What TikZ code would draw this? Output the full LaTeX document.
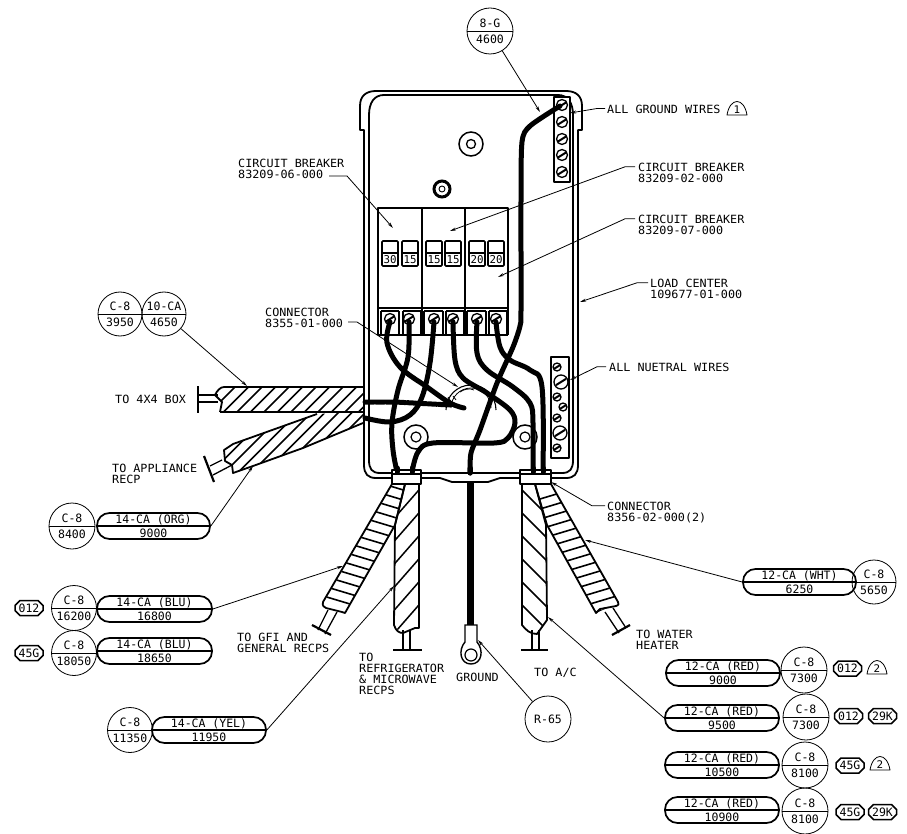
\documentclass[tikz,border=0pt]{standalone}
\usepackage{fontspec}
\usetikzlibrary{arrows.meta,shapes.misc,calc}
\newfontfamily\labf[FakeStretch=1.04]{DejaVu Sans Mono}
\newfontfamily\bigf{DejaVu Sans Mono}
\tikzset{
 lab/.style={inner sep=0pt,anchor=north west,align=left,font=\labf\fontsize{11.3pt}{11.2pt}\selectfont},
 ptxt/.style={inner sep=0pt,font=\bigf\fontsize{11.5pt}{13pt}\selectfont},
 pillbox/.style={draw,line width=1.7pt,rounded corners=12.5pt,minimum height=26pt,inner sep=0pt},
 cirbox/.style={draw,circle,line width=0.8pt,inner sep=0pt},
 tagbox/.style={draw,chamfered rectangle,chamfered rectangle xsep=2.5pt,chamfered rectangle ysep=2.5pt,line width=1.5pt,inner sep=0pt,minimum width=28pt,minimum height=15pt,font=\bigf\fontsize{11.5pt}{13pt}\selectfont},
 tribox/.style={draw,line width=0.8pt,line join=round},
 leader/.style={line width=0.8pt,-{Stealth[length=6pt,width=3pt]}},
 wire/.style={line width=5pt,line cap=round,line join=round},
 body/.style={line width=1.8pt,line join=round},
 hatch/.style={line width=1.5pt},
 screwbig/.style={draw,circle,line width=1.3pt,fill=white,inner sep=0pt},
}
\newcommand\pilltag[6]{% name cx cy w top bottom
 \node[pillbox,minimum width=#4pt] (#1) at (#2,#3) {};
 \draw[line width=1.5pt] (#1.west)--(#1.east);
 \node[ptxt] (#1a) at (#2,#3-6.5) {#5};
 \node[ptxt] (#1b) at (#2,#3+7) {#6};}
\newcommand\cirtag[6]{% name cx cy r top bottom
 \node[cirbox,minimum size=#4*2pt] (#1) at (#2,#3) {};
 \draw[line width=0.8pt] (#1.west)--(#1.east);
 \node[ptxt] (#1a) at (#2,#3-8) {#5};
 \node[ptxt] (#1b) at (#2,#3+8) {#6};}
\newcommand\hextag[4]{\node[tagbox] (#1) at (#2,#3) {#4};}
\newcommand\tritag[4]{%
 \draw[tribox] (#2-10,#3+7) .. controls (#2-7,#3-11) and (#2+7,#3-11) .. (#2+10,#3+7) -- cycle;
 \node[ptxt,font=\labf\fontsize{10.5pt}{12pt}\selectfont] (#1) at (#2,#3+2) {#4};}
\newcommand\screw[4]{% name x y r
 \node[screwbig,minimum size=#4*2pt] (#1) at (#2,#3) {};
 \draw[line width=2pt] ($(#1.center)+(-#4*0.72pt,#4*-0.45pt)$) -- ($(#1.center)+(#4*0.72pt,#4*0.45pt)$);}
\begin{document}
\begin{tikzpicture}[x=1pt,y=-1pt]
\useasboundingbox (0,0) rectangle (907,834);
% housing
\draw[body] (364,340) -- (364,130) -- (360,130) -- (360,106) .. controls (360,96) and (366,91) .. (376,91) -- (566,91) .. controls (576,91) and (582,96) .. (582,106) -- (582,130) -- (578,130) -- (578,465) .. controls (578,474) and (574,478) .. (566,478) -- (500,478) -- (488,482) -- (452,482) -- (440,478) -- (376,478) .. controls (368,478) and (364,474) .. (364,465) -- (364,340);
\draw[body] (369,340) -- (369,115) .. controls (369,103) and (374,95) .. (384,95) -- (558,95) .. controls (568,95) and (573,103) .. (573,115) -- (573,460) .. controls (573,469) and (570,473) .. (562,473) -- (380,473) .. controls (372,473) and (369,469) .. (369,460) -- (369,340);
% bosses
\node[draw,circle,line width=1.5pt,minimum size=24pt,inner sep=0pt] (boss1) at (471,144) {};
\node[draw,circle,line width=1.3pt,minimum size=9pt,inner sep=0pt] (boss1i) at (471,144) {};
\node[draw,circle,line width=3pt,minimum size=16pt,inner sep=0pt] (boss2) at (442,189) {};
\node[draw,circle,line width=0.9pt,minimum size=6pt,inner sep=0pt] (boss2i) at (442,189) {};
% breakers
\draw[body] (378,335) -- (378,208) -- (508,208) -- (508,335);
\draw[body] (422,208) -- (422,335) (465,208) -- (465,335) (378,308) -- (508,308);
\foreach \a/\b/\t in {382/398/30,402/418/15,426/442/15,445/461/15,469/485/20,488/504/20}{
 \draw[line width=1.6pt,rounded corners=1pt] (\a,241) rectangle (\b,266);
 \draw[line width=1.2pt] (\a,253) -- (\b,253);
 \node[inner sep=0pt,font=\bigf\fontsize{10.8pt}{12pt}\selectfont] at ({(\a+\b)/2},260) {\t};
}
\foreach \a in {381,399,403,421,424,443,446,464,467,486,489,507}{\draw[line width=1.2pt] (\a,311) -- (\a,335);}
\foreach \a/\b in {381/399,403/421,424/443,446/464,467/486,489/507}{\draw[line width=1.2pt] (\a,311) -- (\b,311);}
\draw[line width=1.2pt] (378,335) -- (508,335);
% ground bar and neutral bar
\draw[body,fill=white] (554,97) rectangle (570,182);
\foreach \n/\yy in {a/105,b/122,c/139,d/155,e/172}{\screw{g\n}{562}{\yy}{5.5}}
\draw[body,fill=white] (551,357) rectangle (569,458);
\foreach \n/\xx/\yy/\rr in {a/557/367/4,b/561/382/7,c/557/397/4,d/563/407/4,e/557/418/4,f/560/433/7,g/557/448/4}{\screw{n\n}{\xx}{\yy}{\rr}}
% inner circles
\node[draw,circle,line width=1.5pt,minimum size=24pt,inner sep=0pt] (h1) at (416,437) {};
\node[draw,circle,line width=1.2pt,minimum size=10pt,inner sep=0pt] (h1i) at (416,437) {};
\node[draw,circle,line width=1.5pt,minimum size=24pt,inner sep=0pt] (h2) at (525,437) {};
\node[draw,circle,line width=1.2pt,minimum size=10pt,inner sep=0pt] (h2i) at (525,437) {};
\draw[line width=1.1pt] (446,410) arc[start angle=180,end angle=360,radius=25pt,y radius=-25pt];
\draw[line width=0.8pt] (451,408) arc[start angle=180,end angle=360,radius=20pt,y radius=-20pt];
\draw[line width=0.8pt] (460,392) .. controls (464,389) and (470,388) .. (474,390);
\draw[line width=0.8pt] (448,397) -- (452,403) (453,396) -- (456,400);
% top screws
\foreach \n/\xx in {a/390,b/409,c/434,d/453,e/477,f/496}{\screw{t\n}{\xx}{319}{5.5}}
% wires
\draw[wire] plot[smooth,tension=0.6] coordinates {(390,322) (387,343) (400,367) (427,387) (450,403) (464,408)};
\draw[wire] plot[smooth,tension=0.6] coordinates {(409,322) (408,357) (398,390) (392,423) (393,450) (397,472)};
\draw[wire] plot[smooth,tension=0.6] coordinates {(434,322) (430,363) (422,397) (410,415) (390,422) (365,418)};
\draw[wire,dash pattern=on 9pt off 1.5pt] (365,402) -- (395,402) -- (450,405);
\draw[wire] plot[smooth,tension=0.55] coordinates {(453,322) (455,360) (463,378) (487,393) (510,410) (515,423) (508,438) (494,443) (433,443) (418,452) (412,472)};
\draw[wire] plot[smooth,tension=0.6] coordinates {(477,322) (477,353) (487,370) (513,387) (530,403) (533,423) (533,472)};
\draw[wire] plot[smooth,tension=0.6] coordinates {(496,322) (500,347) (510,360) (530,370) (542,387) (543,472)};
\draw[wire] plot[smooth,tension=0.45] coordinates {(560,106) (530,126) (522,142) (521,200) (521,310) (520,326) (513,347) (497,383) (480,430) (471,453) (470,473)};
\draw[line width=7pt] (470,482) -- (470,625);
% ring terminal
\draw[line width=1.4pt,fill=white] (465,625) -- (477,625) -- (477,642) .. controls (484,650) and (482,664) .. (471,664) .. controls (460,664) and (458,650) .. (465,642) -- cycle;
\node[draw,circle,line width=1.2pt,minimum size=12pt,inner sep=0pt,fill=white] (ring) at (471,655) {};
% 4x4 cable
\draw[line width=1.3pt] (218,395) -- (198,395) (218,402) -- (198,402);
\draw[line width=2.2pt] (198,386) -- (198,413);
\begin{scope}
\path[clip] (222,412) -- (222,402) -- (215,395) .. controls (217,391) and (220,387) .. (224,387) -- (363,387) -- (363,412) -- cycle;
\foreach \k in {0,...,12}{\draw[hatch] (210+\k*13.5,412) -- ++(30,-30);}
\end{scope}
\draw[line width=1.8pt,line join=round] (220,412) -- (222,402) -- (215,395) .. controls (217,391) and (220,387) .. (224,387) -- (363,387) (220,412) -- (363,412);
% appliance cable
\draw[line width=1.3pt] (210,466) -- (222,460) (213,475) -- (232,465);
\draw[line width=2.2pt] (204,456) -- (214,482);
\begin{scope}
\path[clip] (232,473) -- (232,465) -- (225,461) -- (224,450) -- (233,444) -- (317,414) -- (363,412) -- (363,423) -- (303,448) -- (253,466) -- cycle;
\foreach \k in {0,...,13}{\draw[hatch] (190+\k*13.5,480) -- ++(80,-80);}
\end{scope}
\draw[line width=1.8pt,line join=round] (363,423) -- (303,448) -- (253,466) -- (233,473) -- (232,465) -- (225,461) -- (224,450) -- (233,444) -- (317,414);
% gfi strip cable
\draw[line width=1.3pt] (328,610) -- (318,630) (337,612) -- (325,634);
\draw[line width=2.2pt] (312,625) -- (331,635);
\begin{scope}
\path[clip] (392,484) -- (405,484) -- (395,525) -- (345,613) -- (323,604) -- cycle;
\foreach \y in {459,469,...,590}{\draw[line width=1.6pt] (300,\y) -- ++(120,36);}
\end{scope}
\draw[line width=1.8pt,line join=round] (392,484) -- (323,602) .. controls (322,606) and (324,607) .. (326,608) -- (342,612) -- (345,613) -- (395,525) -- (405,484);
% refrigerator cable
\draw[line width=1.3pt] (403,630) -- (403,650) (410,630) -- (410,650);
\draw[line width=2.2pt] (393,650) -- (422,650);
\begin{scope}
\path[clip] (405,484) -- (395,525) -- (394,625) -- (400,633) -- (419,628) -- (419,484) -- cycle;
\foreach \y in {500,523,...,680}{\draw[hatch] (390,\y) -- ++(35,-40);}
\end{scope}
\draw[line width=1.8pt,line join=round] (405,484) -- (395,525) -- (394,625) .. controls (396,631) and (399,633) .. (403,633) -- (415,628) -- (419,628) -- (419,484);
% a/c cable
\draw[line width=1.3pt] (532,630) -- (532,650) (539,630) -- (539,650);
\draw[line width=2.2pt] (521,650) -- (548,650);
\begin{scope}
\path[clip] (522,484) -- (522,625) -- (537,634) -- (547,620) -- (546,525) -- (535,484) -- cycle;
\foreach \y in {460,483,...,640}{\draw[hatch] (515,\y) -- ++(40,40);}
\end{scope}
\draw[line width=1.8pt,line join=round] (522,484) -- (522,625) .. controls (526,630) and (530,634) .. (537,634) -- (547,620) -- (546,525) -- (535,484);
% water heater cable
\draw[line width=1.3pt] (605,612) -- (619,633) (613,608) -- (626,628);
\draw[line width=2.2pt] (612,635) -- (630,625);
\begin{scope}
\path[clip] (535,484) -- (551,484) -- (618,603) -- (596,613) -- (547,525) -- cycle;
\foreach \y in {505,515,...,640}{\draw[line width=1.6pt] (520,\y) -- ++(120,-36);}
\end{scope}
\draw[line width=1.8pt,line join=round] (535,484) -- (547,525) -- (596,613) -- (600,609) -- (616,606) .. controls (619,605) and (619,604) .. (618,602) -- (551,484);
% connector bands
\draw[body,fill=white] (392,470) rectangle (421,484);
\draw[body,fill=white] (520,470) rectangle (551,484);
\draw[line width=1.2pt] (392,474) -- (421,474) (520,474) -- (551,474);
\draw[wire] (397,468) -- (397,472) (412,468) -- (412,472) (470,468) -- (470,473) (533,468) -- (533,472) (543,468) -- (543,472);
% labels
\node[lab] (lg) at (607,104.5) {ALL GROUND WIRES};
\tritag{tr1}{737}{108}{1}
\node[lab] (cb2) at (638,162.8) {CIRCUIT BREAKER\\83209-02-000};
\node[lab] (cb7) at (638,214.8) {CIRCUIT BREAKER\\83209-07-000};
\node[lab] (lc) at (650,278.8) {LOAD CENTER\\109677-01-000};
\node[lab] (cb6) at (238,158.8) {CIRCUIT BREAKER\\83209-06-000};
\node[lab] (c1) at (265,307.5) {CONNECTOR\\8355-01-000};
\node[lab] (ln) at (609,362.8) {ALL NUETRAL WIRES};
\node[lab] (c2) at (607,501.8) {CONNECTOR\\8356-02-000(2)};
\node[lab] (t1) at (115,394.8) {TO 4X4 BOX};
\node[lab] (t2) at (112,463.8) {TO APPLIANCE\\RECP};
\node[lab] (t3) at (237,632.8) {TO GFI AND\\GENERAL RECPS};
\node[lab] (t4) at (359,652.8) {TO\\REFRIGERATOR\\\& MICROWAVE\\RECPS};
\node[lab] (t5) at (456,672.8) {GROUND};
\node[lab] (t6) at (534,667.8) {TO A/C};
\node[lab] (t7) at (636,629.8) {TO WATER\\HEATER};
% tags
\cirtag{k1}{490}{31}{23}{8-G}{4600}
\cirtag{k2}{120}{314}{22}{C-8}{3950}
\cirtag{k3}{164}{314}{22}{10-CA}{4650}
\cirtag{k4}{72}{526}{23}{C-8}{8400}
\pilltag{p4}{153.5}{526}{113}{14-CA (ORG)}{9000}
\cirtag{k5}{74}{608}{22.5}{C-8}{16200}
\pilltag{p5}{154.5}{609}{115}{14-CA (BLU)}{16800}
\hextag{h5}{29}{608}{012}
\cirtag{k6}{74}{653}{22.5}{C-8}{18050}
\pilltag{p6}{154.5}{651}{115}{14-CA (BLU)}{18650}
\hextag{h6}{29}{653}{45G}
\cirtag{k7}{130}{730}{22.5}{C-8}{11350}
\pilltag{p7}{209}{730}{114}{14-CA (YEL)}{11950}
\pilltag{p8}{799.5}{582}{113}{12-CA (WHT)}{6250}
\cirtag{k8}{874}{582}{22}{C-8}{5650}
\pilltag{p9}{723}{673}{114}{12-CA (RED)}{9000}
\cirtag{k9}{804}{670}{23}{C-8}{7300}
\hextag{h9}{847.5}{668.5}{012}
\tritag{tr2}{877}{667}{2}
\pilltag{p10}{722}{718}{114}{12-CA (RED)}{9500}
\cirtag{k10}{806}{717}{23}{C-8}{7300}
\hextag{h10}{848.5}{716}{012}
\hextag{h11}{882.5}{716}{29K}
\pilltag{p11}{722}{765}{114}{12-CA (RED)}{10500}
\cirtag{k11}{805}{765}{23}{C-8}{8100}
\hextag{h12}{850}{765.5}{45G}
\tritag{tr3}{880}{763}{2}
\pilltag{p12}{722}{810}{114}{12-CA (RED)}{10900}
\cirtag{k12}{805}{811}{23}{C-8}{8100}
\hextag{h13}{850}{812}{45G}
\hextag{h14}{882.5}{812}{29K}
\node[cirbox,minimum size=46pt] (k13) at (548,719) {\bigf\fontsize{11.5pt}{13pt}\selectfont R-65};
% leader ends
\coordinate (e1) at (540,112); \coordinate (e2) at (570,113);
\coordinate (e3) at (450,231); \coordinate (e4) at (498,277);
\coordinate (e5) at (580,302); \coordinate (e6) at (393,228);
\coordinate (e7) at (458,387); \coordinate (e8) at (570,380);
\coordinate (e9) at (551,482); \coordinate (e10) at (247,386);
\coordinate (e11) at (253,466); \coordinate (e12) at (343,566);
\coordinate (e13) at (394,586); \coordinate (e14) at (585,540);
\coordinate (e15) at (548,617); \coordinate (e16) at (478,640);
% leaders
\draw[leader] (k1) -- (e1);
\draw[leader] ([xshift=-2pt,yshift=-4pt]lg.north west) -- ++(-8,0) -- (e2);
\draw[leader] ([xshift=-3pt,yshift=-4pt]cb2.north west) -- ++(-10,0) -- (e3);
\draw[leader] ([xshift=-3pt,yshift=-4pt]cb7.north west) -- ++(-10,0) -- (e4);
\draw[leader] ([xshift=-2pt,yshift=-4pt]lc.north west) -- ++(-11,0) -- (e5);
\coordinate (s6) at (329,176);
\draw[leader] (s6) -- (347,176) -- (e6);
\coordinate (s1) at (348,322);
\draw[leader] (s1) -- (357,322) -- (e7);
\draw[leader] ([xshift=-3pt,yshift=-4pt]ln.north west) -- ++(-9,0) -- (e8);
\draw[leader] ([xshift=-2pt,yshift=-4pt]c2.north west) -- ++(-13,0) -- (e9);
\draw[leader] (k3) -- (e10);
\draw[leader] (p4.east) -- (e11);
\draw[leader] (p5.east) -- (e12);
\draw[leader] (p7.east) -- (e13);
\draw[leader] (p8.west) -- (e14);
\draw[leader] (p10.west) -- (e15);
\draw[leader] (k13) -- (e16);
\end{tikzpicture}
\end{document}
